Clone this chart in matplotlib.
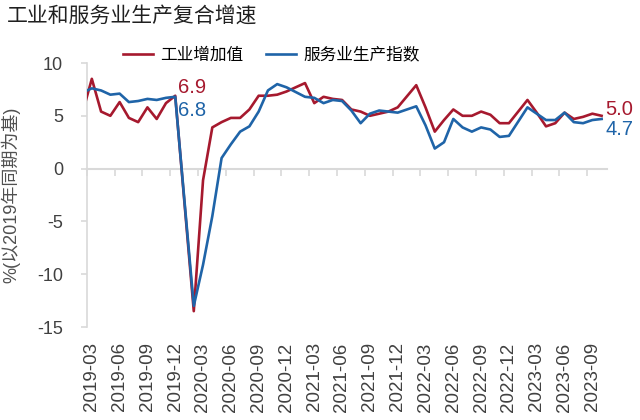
import pandas as pd
import matplotlib.pyplot as plt
import matplotlib.transforms as mtransforms

plt.rcParams['font.family'] = ['Liberation Sans', 'Noto Sans CJK SC']
plt.rcParams['axes.unicode_minus'] = False

# 月度数据（1月与2月合并发布，故无1月）
months = pd.period_range('2019-02', '2023-10', freq='M')
months = months[months.month != 1]

industry = [5.3, 8.5, 5.4, 5.0, 6.3, 4.8, 4.4, 5.8, 4.7, 6.2, 6.9,
            -13.5, -1.1, 3.9, 4.4, 4.8, 4.8, 5.6, 6.9, 6.9, 7.0, 7.3,
            8.1, 6.2, 6.8, 6.6, 6.5, 5.6, 5.4, 5.0, 5.2, 5.4, 5.8,
            7.9, 5.8, 3.5, 4.6, 5.6, 5.0, 5.0, 5.4, 5.1, 4.3, 4.3,
            6.5, 5.3, 4.0, 4.3, 5.3, 4.7, 4.9, 5.2, 5.0]
services = [7.2, 7.6, 7.4, 7.0, 7.1, 6.3, 6.4, 6.6, 6.5, 6.7, 6.8,
            -13.0, -9.1, -4.5, 1.0, 2.3, 3.5, 4.0, 5.4, 7.4, 8.0, 7.7,
            6.8, 6.7, 6.2, 6.5, 6.4, 5.5, 4.3, 5.2, 5.5, 5.4, 5.3,
            5.9, 4.1, 1.9, 2.5, 4.7, 3.9, 3.5, 3.9, 3.7, 3.0, 3.1,
            5.8, 5.2, 4.6, 4.6, 5.3, 4.4, 4.3, 4.6, 4.7]

start = pd.Period('2019-03', freq='M')
tick_months = [start + 3 * k for k in range(19)]

red = '#A6192E'
blue = '#1F64A8'
grey = '#D9D9D9'
txt = '#404040'

# 数据点画在月中
x = [(p - start).n + 0.55 for p in months]
ticks = [(p - start).n for p in tick_months]

fig = plt.figure(figsize=(6.4, 4.2), dpi=100)
ax = fig.add_axes([0.1355, 0.2214, 0.8125, 0.6286])

ax.plot(x, industry, color=red, lw=1.9, label='工业增加值', zorder=3)
ax.plot(x, services, color=blue, lw=1.9, label='服务业生产指数', zorder=3)

ax.set_xlim(0, 56.1)
ax.set_ylim(-15, 10)
ax.set_yticks([-15, -10, -5, 0, 5, 10])

for s in ['top', 'right']:
    ax.spines[s].set_visible(False)
ax.spines['left'].set_color(grey)
ax.spines['left'].set_linewidth(1.2)
ax.spines['bottom'].set_position(('data', 0))
ax.spines['bottom'].set_color(grey)
ax.spines['bottom'].set_linewidth(1.5)

ax.set_xticks(ticks)
ax.tick_params(axis='x', direction='out', length=5, width=1.2, color=grey,
               labelbottom=False)
ax.tick_params(axis='y', direction='out', length=4, width=1.2, color=grey,
               labelsize=13, labelcolor=txt, pad=13)

sec = ax.secondary_xaxis('bottom')
sec.set_xticks(ticks, [str(p) for p in tick_months], rotation=90)
sec.tick_params(length=0, pad=11, labelsize=13.5, labelcolor=txt)
sec.spines['bottom'].set_visible(False)
shift = mtransforms.ScaledTranslation(0.05, 0, fig.dpi_scale_trans)
for lab in sec.get_xticklabels():
    lab.set_transform(lab.get_transform() + shift)

ax.set_ylabel('%(以2019年同期为基)', fontsize=13, color='#505050',
              family=['Liberation Sans', 'Noto Sans CJK SC'], weight='light')
ax.yaxis.set_label_coords(-0.128, 0.5)

# 末值与疫情前数值标注
ax.annotate('6.9', (x[10], industry[10]), xytext=(3, 8),
            textcoords='offset pixels', color=red, fontsize=14.5,
            va='center', ha='left')
ax.annotate('6.8', (x[10], services[10]), xytext=(3, -14),
            textcoords='offset pixels', color=blue, fontsize=14.5,
            va='center', ha='left')
ax.annotate('5.0', (x[-1], industry[-1]), xytext=(4, 6),
            textcoords='offset pixels', color=red, fontsize=14.5,
            va='center', ha='left', annotation_clip=False)
ax.annotate('4.7', (x[-1], services[-1]), xytext=(4, -11),
            textcoords='offset pixels', color=blue, fontsize=14.5,
            va='center', ha='left', annotation_clip=False)

fig.legend(loc='center left', bbox_to_anchor=(115 / 640, 1 - 55 / 420),
           ncol=2, frameon=False, borderpad=0, handlelength=1.8,
           handletextpad=0.4, columnspacing=1.4,
           prop={'family': 'Noto Sans CJK SC', 'size': 12, 'weight': 'light'})

fig.text(7 / 640, 1 - 5 / 420, '工业和服务业生产复合增速', fontsize=15,
         family='Noto Sans CJK SC', weight='light', color='#202020',
         va='top', ha='left')

fig.savefig('out.png', dpi=100)
